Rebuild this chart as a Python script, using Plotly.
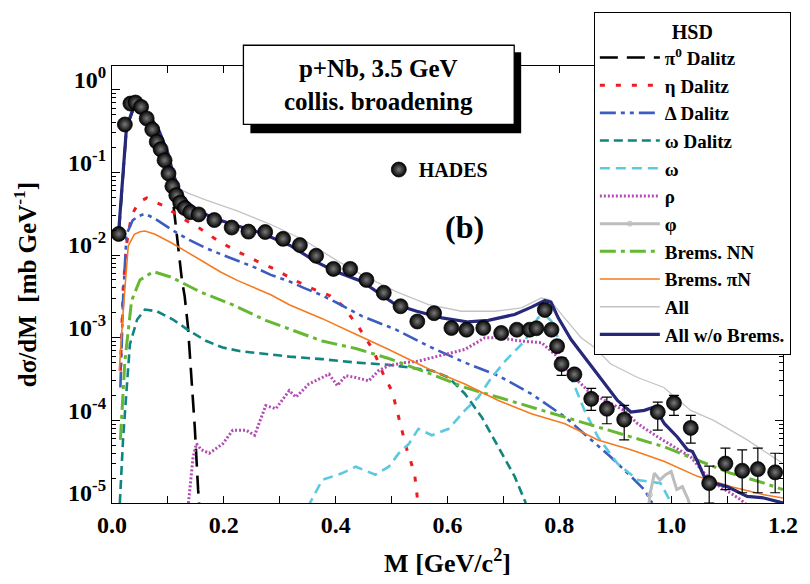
import plotly.graph_objects as go

# ---------------- HADES data points ----------------
hades_m = [0.012, 0.023, 0.033, 0.042, 0.052, 0.062, 0.072, 0.080, 0.087, 0.094,
           0.101, 0.108, 0.115, 0.122, 0.130, 0.140, 0.155, 0.183, 0.214, 0.244,
           0.274, 0.306, 0.336, 0.365, 0.396, 0.426, 0.455, 0.486, 0.516, 0.546,
           0.576, 0.607, 0.634, 0.664, 0.696, 0.724, 0.747, 0.759, 0.774, 0.786,
           0.796, 0.804, 0.827, 0.857, 0.885, 0.916, 0.976, 1.005, 1.035, 1.068,
           1.097, 1.127, 1.155, 1.186]
hades_y = [0.018, 0.38, 0.68, 0.70, 0.62, 0.45, 0.33, 0.235, 0.19, 0.14,
           0.097, 0.068, 0.053, 0.043, 0.037, 0.033, 0.031, 0.0265, 0.0215, 0.0192,
           0.019, 0.0157, 0.0132, 0.0098, 0.0068, 0.0068, 0.0050, 0.0035, 0.0024, 0.00157,
           0.00198, 0.00131, 0.00125, 0.00131, 0.00114, 0.00125, 0.00125, 0.0013, 0.00217, 0.00125,
           7.9e-4, 4.8e-4, 3.6e-4, 1.82e-4, 1.38e-4, 1.02e-4, 1.26e-4, 1.62e-4, 8.1e-5, 1.74e-5,
           3.0e-5, 2.46e-5, 2.57e-5, 2.35e-5]
# upper / lower ends of the error bars (None: bar hidden by the marker)
hades_hi = [None] * 41 + [5.7e-4, None, 2.44e-4, 1.91e-4, 1.52e-4, 1.66e-4, 2.0e-4,
                          1.15e-4, 2.8e-5, 4.6e-5, 4.4e-5, 4.6e-5, 4.0e-5]
hades_lo = [None] * 41 + [3.5e-4, None, 1.32e-4, 9.1e-5, 5.8e-5, 7.6e-5, 1.15e-4,
                          5.3e-5, 1.0e-5, 1.45e-5, 1.33e-5, 1.33e-5, 1.33e-5]

# ---------------- HSD contributions ----------------
pi0_m = [0.012, 0.026, 0.040, 0.053, 0.071, 0.085, 0.100, 0.108, 0.112, 0.118,
         0.125, 0.130, 0.136, 0.142, 0.148, 0.154, 0.157]
pi0_y = [0.0178, 0.347, 0.631, 0.575, 0.437, 0.295, 0.158, 0.050, 0.0316, 0.0129,
         0.005, 0.00316, 1.32e-3, 3.3e-4, 8.3e-5, 1.45e-5, 7.9e-6]

eta_m = [0.015, 0.020, 0.026, 0.035, 0.048, 0.062, 0.094, 0.127, 0.160, 0.192,
         0.225, 0.258, 0.290, 0.323, 0.356, 0.389, 0.412, 0.440, 0.467, 0.486,
         0.501, 0.513, 0.527, 0.541, 0.548]
eta_y = [3.98e-4, 3.98e-3, 0.0135, 0.0302, 0.0437, 0.049, 0.0389, 0.0275, 0.0204, 0.0145,
         0.011, 0.0085, 0.0068, 0.0051, 0.00398, 0.00324, 0.00245, 0.00138, 7.1e-4, 3.5e-4,
         2.24e-4, 1.07e-4, 4.5e-5, 2.3e-5, 8.9e-6]

delta_m = [0.015, 0.020, 0.026, 0.037, 0.047, 0.059, 0.077, 0.106, 0.136, 0.166,
           0.195, 0.225, 0.255, 0.284, 0.314, 0.344, 0.373, 0.403, 0.447, 0.507,
           0.566, 0.631, 0.691, 0.750, 0.810, 0.851, 0.892, 0.928, 0.952, 0.966]
delta_y = [2.5e-4, 3.16e-3, 0.0178, 0.0263, 0.0295, 0.0316, 0.0275, 0.0204, 0.0155, 0.0123,
           0.0102, 0.0085, 0.0071, 0.00575, 0.0049, 0.00398, 0.00331, 0.00263, 0.00182, 0.00126,
           7.9e-4, 5.0e-4, 3.47e-4, 2.09e-4, 1.1e-4, 6.3e-5, 3.6e-5, 2.1e-5, 1.45e-5, 1.0e-5]

omegad_m = [0.014, 0.020, 0.032, 0.045, 0.059, 0.080, 0.109, 0.139, 0.169, 0.198,
            0.228, 0.258, 0.287, 0.317, 0.376, 0.436, 0.495, 0.531, 0.572, 0.602,
            0.631, 0.661, 0.691, 0.720, 0.740]
omegad_y = [1.0e-5, 6.3e-5, 8.3e-4, 1.66e-3, 2.19e-3, 2.09e-3, 1.66e-3, 1.2e-3, 9.1e-4, 7.6e-4,
            6.9e-4, 6.5e-4, 6.2e-4, 5.9e-4, 5.5e-4, 5.0e-4, 4.7e-4, 4.4e-4, 4.0e-4, 3.3e-4,
            2.1e-4, 1.1e-4, 4.8e-5, 2.1e-5, 1.0e-5]

omega_m = [0.350, 0.376, 0.412, 0.436, 0.471, 0.495, 0.513, 0.531, 0.548, 0.572,
           0.602, 0.631, 0.655, 0.679, 0.703, 0.738, 0.762, 0.774, 0.786, 0.804,
           0.821, 0.845, 0.869, 0.904, 0.940, 0.981, 1.000]
omega_y = [8.9e-6, 1.9e-5, 2.3e-5, 2.75e-5, 2.2e-5, 2.75e-5, 4.0e-5, 5.2e-5, 7.9e-5, 6.6e-5,
           7.9e-5, 1.32e-4, 1.9e-4, 3.3e-4, 5.2e-4, 9.1e-4, 1.74e-3, 1.9e-3, 1.58e-3, 7.6e-4,
           3.3e-4, 1.32e-4, 6.3e-5, 3.0e-5, 1.9e-5, 1.74e-5, 1.0e-5]

rho_m = [0.136, 0.145, 0.151, 0.160, 0.174, 0.198, 0.216, 0.240, 0.255, 0.275,
         0.293, 0.317, 0.329, 0.352, 0.376, 0.388, 0.403, 0.418, 0.436, 0.459,
         0.477, 0.495, 0.525, 0.548, 0.584, 0.631, 0.667, 0.691, 0.732, 0.768,
         0.792, 0.821, 0.851, 0.881, 0.916, 0.940, 0.976, 1.005, 1.035, 1.059,
         1.082, 1.106, 1.124, 1.140]
rho_y = [8.9e-6, 3.6e-5, 5.2e-5, 4.4e-5, 4.0e-5, 5.2e-5, 7.6e-5, 7.6e-5, 6.6e-5, 1.51e-4,
         1.38e-4, 2.29e-4, 1.91e-4, 2.75e-4, 3.3e-4, 3.63e-4, 2.63e-4, 3.47e-4, 3.3e-4, 3.0e-4,
         4.0e-4, 4.6e-4, 5.0e-4, 5.2e-4, 6.0e-4, 7.2e-4, 1.0e-3, 1.0e-3, 9.1e-4, 8.7e-4,
         6.3e-4, 3.6e-4, 2.3e-4, 1.74e-4, 1.32e-4, 9.1e-5, 6.3e-5, 4.8e-5, 3.6e-5, 2.3e-5,
         1.66e-5, 1.32e-5, 1.1e-5, 8.9e-6]

phi_m = [0.955, 0.962, 0.970, 0.980, 0.990, 1.000, 1.010, 1.020, 1.030, 1.045]
phi_y = [5.0e-6, 1.26e-5, 2.3e-5, 1.9e-5, 2.2e-5, 2.4e-5, 1.45e-5, 1.58e-5, 1.12e-5, 5.0e-6]

bnn_m = [0.015, 0.023, 0.035, 0.050, 0.074, 0.106, 0.157, 0.216, 0.275, 0.335,
         0.376, 0.436, 0.495, 0.572, 0.631, 0.691, 0.750, 0.810, 0.869, 0.928,
         0.987, 1.047, 1.106, 1.166, 1.200]
bnn_y = [5.8e-5, 5.2e-4, 2.8e-3, 5.0e-3, 6.3e-3, 5.4e-3, 3.6e-3, 2.5e-3, 1.62e-3, 1.15e-3,
         9.1e-4, 7.4e-4, 5.6e-4, 3.6e-4, 2.5e-4, 1.9e-4, 1.45e-4, 1.1e-4, 8.3e-5, 6.3e-5,
         4.8e-5, 3.3e-5, 2.3e-5, 1.74e-5, 1.45e-5]

bpin_m = [0.013, 0.020, 0.029, 0.040, 0.050, 0.059, 0.077, 0.106, 0.136, 0.166,
          0.195, 0.225, 0.255, 0.284, 0.317, 0.376, 0.436, 0.495, 0.572, 0.631,
          0.691, 0.750, 0.810, 0.869, 0.928, 0.987, 1.047, 1.106, 1.166, 1.200]
bpin_y = [4.0e-4, 2.1e-3, 0.0129, 0.0178, 0.0191, 0.0195, 0.0178, 0.0141, 0.0107, 0.0081,
          0.0062, 0.0049, 0.0040, 0.0033, 0.0025, 0.0017, 0.0011, 7.2e-4, 4.0e-4, 2.75e-4,
          1.74e-4, 1.2e-4, 9.1e-5, 5.8e-5, 4.4e-5, 3.2e-5, 2.1e-5, 1.58e-5, 1.26e-5, 1.15e-5]

all_m = [0.012, 0.026, 0.040, 0.053, 0.071, 0.085, 0.100, 0.109, 0.121, 0.136,
         0.166, 0.225, 0.284, 0.344, 0.403, 0.447, 0.507, 0.566, 0.625, 0.685,
         0.732, 0.768, 0.783, 0.804, 0.839, 0.863, 0.892, 0.940, 0.987, 1.035,
         1.076, 1.136, 1.200]
all_y = [0.0195, 0.355, 0.646, 0.589, 0.447, 0.309, 0.170, 0.100, 0.063, 0.0562,
         0.0468, 0.0339, 0.0234, 0.0151, 0.00851, 0.00575, 0.00363, 0.00251, 0.00209, 0.00209,
         0.00229, 0.00302, 0.00288, 0.00191, 0.001, 7.6e-4, 4.8e-4, 3.3e-4, 2.5e-4, 1.32e-4,
         1.0e-4, 5.8e-5, 3.0e-5]

nobrems_m = [0.012, 0.026, 0.040, 0.053, 0.071, 0.085, 0.100, 0.109, 0.121, 0.133,
             0.154, 0.189, 0.225, 0.266, 0.320, 0.367, 0.400, 0.447, 0.507, 0.545,
             0.590, 0.637, 0.673, 0.720, 0.750, 0.774, 0.785, 0.798, 0.821, 0.851,
             0.881, 0.904, 0.928, 0.952, 0.970, 0.988, 1.011, 1.029, 1.038, 1.047,
             1.059, 1.076, 1.100, 1.112, 1.136, 1.166, 1.189, 1.200]
nobrems_y = [0.0195, 0.355, 0.646, 0.589, 0.447, 0.309, 0.170, 0.0977, 0.0589, 0.0447,
             0.0339, 0.0269, 0.0224, 0.0186, 0.0129, 0.00813, 0.00631, 0.00479, 0.00251, 0.00209,
             0.00174, 0.00155, 0.00162, 0.00191, 0.00234, 0.00282, 0.00269, 0.00174, 9.5e-4, 5.2e-4,
             2.75e-4, 1.74e-4, 1.26e-4, 1.32e-4, 1.45e-4, 9.1e-5, 6.3e-5, 4.4e-5, 4.2e-5, 3.2e-5,
             2.1e-5, 1.74e-5, 1.58e-5, 1.45e-5, 1.2e-5, 1.15e-5, 1.05e-5, 1.0e-5]

# axis ticks
x_ticks = [0.0, 0.2, 0.4, 0.6, 0.8, 1.0, 1.2]
x_ticktext = ["0.0", "0.2", "0.4", "0.6", "0.8", "1.0", "1.2"]
y_ticks = [1e-5, 1e-4, 1e-3, 1e-2, 1e-1, 1e0]
y_ticktext = ["10<sup>-5</sup>", "10<sup>-4</sup>", "10<sup>-3</sup>",
              "10<sup>-2</sup>", "10<sup>-1</sup>", "10<sup>0</sup>"]

SERIF = "Liberation Serif"
W, H = 810, 584
L, R, T, B = 112, 786, 65, 507   # plot area in pixels


def px(x):
    return (x - L) / (R - L)


def py(y):
    return (B - y) / (B - T)


fig = go.Figure()

curves = [
    ("π<sup>0</sup> Dalitz", pi0_m, pi0_y, "#000000", 2.6, "18px,9px"),
    ("η Dalitz", eta_m, eta_y, "#ec1c24", 3.0, "5px,11px"),
    ("Δ Dalitz", delta_m, delta_y, "#3b5cc0", 2.6, "16px,5px,4px,5px,4px,5px"),
    ("ω Dalitz", omegad_m, omegad_y, "#10847f", 2.6, "9px,5px"),
    ("ω", omega_m, omega_y, "#5cc9e0", 2.6, "10px,6px"),
    ("ρ", rho_m, rho_y, "#b34db3", 3.0, "2px,2px"),
]
for name, xs, ys, col, w, dash in curves:
    fig.add_trace(go.Scatter(x=xs, y=ys, mode="lines", name=name, legend="legend",
                             line=dict(color=col, width=w, dash=dash)))

fig.add_trace(go.Scatter(x=phi_m, y=phi_y, mode="lines+markers", name="φ", legend="legend",
                         line=dict(color="#bdbdbd", width=3),
                         marker=dict(symbol="circle-open", size=5, color="#bdbdbd",
                                     maxdisplayed=1)))
fig.add_trace(go.Scatter(x=bnn_m, y=bnn_y, mode="lines", name="Brems. NN", legend="legend",
                         line=dict(color="#66b832", width=3, dash="16px,5px,4px,5px")))
fig.add_trace(go.Scatter(x=bpin_m, y=bpin_y, mode="lines", name="Brems. πN", legend="legend",
                         line=dict(color="#f47b20", width=1.6)))
fig.add_trace(go.Scatter(x=all_m, y=all_y, mode="lines", name="All", legend="legend",
                         line=dict(color="#c4c4c4", width=1.3)))
fig.add_trace(go.Scatter(x=nobrems_m, y=nobrems_y, mode="lines", name="All w/o Brems.",
                         legend="legend", line=dict(color="#27287a", width=3.2)))

err_plus = [0 if h is None else h - y for h, y in zip(hades_hi, hades_y)]
err_minus = [0 if l is None else y - l for l, y in zip(hades_lo, hades_y)]
fig.add_trace(go.Scatter(
    x=hades_m, y=hades_y, mode="markers", name="HADES", legend="legend2",
    marker=dict(symbol="circle", size=15, color="#000000",
                gradient=dict(type="radial", color="#7a7a7a"),
                line=dict(color="#000000", width=0.7)),
    error_y=dict(type="data", symmetric=False, array=err_plus, arrayminus=err_minus,
                 color="#000000", thickness=1.2, width=5)))

axis_common = dict(showline=True, linecolor="black", linewidth=1.2, mirror="ticks",
                   ticks="inside", tickcolor="black", showgrid=False, zeroline=False,
                   tickfont=dict(family=SERIF, size=24, color="black", weight="bold"))

fig.update_xaxes(range=[0, 1.2], tickvals=x_ticks, ticktext=x_ticktext, ticklen=7,
                 minor=dict(ticks="inside", ticklen=7, dtick=0.1, tickcolor="black"),
                 title=dict(text="M [GeV/c<sup>2</sup>]", standoff=16,
                            font=dict(family=SERIF, size=26, color="black", weight="bold")),
                 **axis_common)
fig.update_yaxes(type="log", range=[-5, 0.287], tickvals=y_ticks, ticktext=y_ticktext,
                 ticklen=8, ticklabelshift=-10,
                 minor=dict(ticks="inside", ticklen=4, tickcolor="black",
                            tickvals=[k * 10.0 ** e for e in range(-5, 1) for k in range(2, 10)]),
                 title=dict(text="dσ/dM  [mb GeV<sup>-1</sup>]", standoff=24,
                            font=dict(family=SERIF, size=25, color="black", weight="bold")),
                 **axis_common)

legend_font = dict(family=SERIF, size=19, color="black", weight="bold")
fig.update_layout(
    width=W, height=H,
    margin=dict(l=L, r=W - R, t=T, b=H - B),
    paper_bgcolor="white", plot_bgcolor="white",
    legend=dict(x=px(596), y=py(10), xanchor="left", yanchor="top",
                bgcolor="white", bordercolor="black", borderwidth=1,
                font=legend_font, itemwidth=60, tracegroupgap=0, maxheight=560,
                title=dict(text="HSD", side="top center",
                           font=dict(family=SERIF, size=20, color="black", weight="bold"))),
    legend2=dict(x=px(380), y=py(150), xanchor="left", yanchor="top",
                 bgcolor="rgba(0,0,0,0)", borderwidth=0, itemwidth=30,
                 font=dict(family=SERIF, size=20, color="black", weight="bold")),
)

# label box with drop shadow
fig.add_shape(type="rect", xref="paper", yref="paper", layer="above",
              x0=px(251), x1=px(523), y0=py(51), y1=py(133),
              fillcolor="black", line=dict(width=0))
fig.add_shape(type="rect", xref="paper", yref="paper", layer="above",
              x0=px(244), x1=px(516), y0=py(44), y1=py(124),
              fillcolor="white", line=dict(color="black", width=1.3))
fig.add_annotation(xref="paper", yref="paper", x=px(380), y=py(84),
                   xanchor="center", yanchor="middle",
                   text="p+Nb, 3.5 GeV<br>collis. broadening", showarrow=False,
                   font=dict(family=SERIF, size=25, color="black", weight="bold"))
fig.add_annotation(xref="paper", yref="paper", x=px(466), y=py(228),
                   xanchor="center", yanchor="middle",
                   text="(b)", showarrow=False,
                   font=dict(family=SERIF, size=32, color="black", weight="bold"))

fig.write_html("out.html")
